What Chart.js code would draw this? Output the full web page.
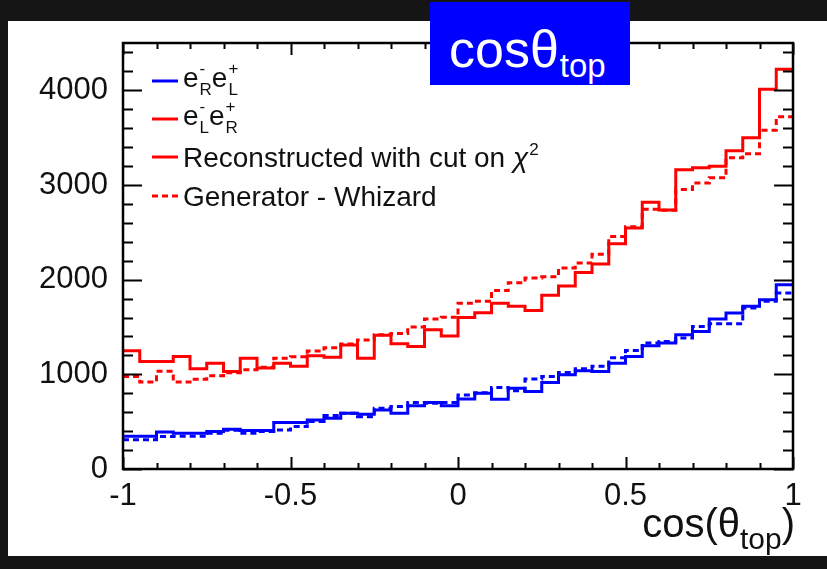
<!DOCTYPE html>
<html>
<head>
<meta charset="utf-8">
<script src="https://cdn.jsdelivr.net/npm/chart.js@4/dist/chart.umd.min.js"></script>
<style>
  html, body { margin: 0; padding: 0; width: 827px; height: 569px; overflow: hidden; background: #151515; }
  body { font-family: "Liberation Sans", Arial, Helvetica, sans-serif; position: relative; }
  #panel { position: absolute; left: 8px; top: 21px; width: 819px; height: 535px; background: #ffffff; }
  #wrap { position: absolute; left: 0; top: 0; width: 827px; height: 569px; }
  #badge { position: absolute; left: 430px; top: 2px; width: 200px; height: 83px; background: #0000ff; color: #ffffff;
           font-size: 52px; line-height: 1; white-space: nowrap; }
  #badge .main { position: absolute; left: 19px; top: 21px; }
  #badge .sub { font-size: 33px; position: relative; top: 10px; margin-left: 1px; }
  #xtitle { position: absolute; right: 32px; top: 503px; color: #111111; font-size: 40px; line-height: 1; white-space: nowrap; }
  #xtitle .sub { font-size: 30px; position: relative; top: 12px; }
</style>
</head>
<body>
<div id="panel"></div>
<div id="wrap"><canvas id="chart" width="827" height="569"></canvas></div>
<div id="badge"><span class="main">cosθ<span class="sub">top</span></span></div>
<div id="xtitle">cos(θ<span class="sub">top</span>)</div>
<script>
// Bin edges of the cos(theta_top) histograms (40 bins from -1 to 1)
const binEdges = [-1, -0.95, -0.9, -0.85, -0.8, -0.75, -0.7, -0.65, -0.6, -0.55,
  -0.5, -0.45, -0.4, -0.35, -0.3, -0.25, -0.2, -0.15, -0.1, -0.05,
  0, 0.05, 0.1, 0.15, 0.2, 0.25, 0.3, 0.35, 0.4, 0.45,
  0.5, 0.55, 0.6, 0.65, 0.7, 0.75, 0.8, 0.85, 0.9, 0.95, 1];

// e-_L e+_R : reconstructed with chi2 cut
const recoLR = [1249, 1135, 1135, 1188, 1060, 1118, 1030, 1171, 1066, 1118,
  1085, 1195, 1180, 1310, 1171, 1412, 1323, 1294, 1471, 1405,
  1600, 1650, 1750, 1718, 1675, 1835, 1932, 2075, 2165, 2380,
  2547, 2818, 2735, 3160, 3181, 3199, 3363, 3499, 4011, 4222];

// e-_L e+_R : generator level (Whizard)
const genLR = [977, 918, 1033, 918, 949, 986, 1018, 1048, 1075, 1171,
  1185, 1246, 1282, 1321, 1362, 1418, 1432, 1499, 1585, 1603,
  1750, 1771, 1885, 1968, 2018, 2030, 2124, 2175, 2268, 2455,
  2560, 2745, 2733, 2952, 3020, 3076, 3288, 3330, 3578, 3720];

// e-_R e+_L : reconstructed with chi2 cut
const recoRL = [345, 345, 390, 377, 377, 395, 420, 406, 406, 490,
  490, 518, 536, 589, 578, 624, 589, 668, 703, 667,
  740, 801, 737, 854, 818, 913, 995, 1037, 1030, 1118,
  1188, 1302, 1330, 1418, 1453, 1584, 1647, 1718, 1788, 1947];

// e-_R e+_L : generator level (Whizard)
const genRL = [310, 310, 342, 345, 345, 377, 410, 377, 395, 413,
  448, 501, 564, 589, 553, 642, 659, 702, 695, 702,
  783, 805, 862, 827, 950, 977, 1020, 1060, 1086, 1175,
  1252, 1330, 1347, 1383, 1506, 1534, 1534, 1700, 1771, 1859];

// Axis labels
const xTickValues = [-1, -0.5, 0, 0.5, 1];
const xTickLabels = ['-1', '-0.5', '0', '0.5', '1'];
const yTickValues = [0, 1000, 2000, 3000, 4000];
const yTickLabels = ['0', '1000', '2000', '3000', '4000'];

const BLUE = '#0000ff';
const RED = '#ff0000';
const INK = '#111111';
const FONT = '"Liberation Sans", Arial, Helvetica, sans-serif';

// Turn bin contents into step points: one point per left edge, plus the closing edge
function histPoints(values) {
  const pts = values.map((v, i) => ({ x: binEdges[i], y: v }));
  pts.push({ x: binEdges[values.length], y: values[values.length - 1] });
  return pts;
}

function histDataset(label, values, color, dashed) {
  return {
    label: label,
    data: histPoints(values),
    borderColor: color,
    backgroundColor: color,
    borderWidth: 3,
    borderDash: dashed ? [6, 4] : [],
    stepped: 'before',
    pointRadius: 0,
    fill: false,
    order: dashed ? 2 : 1
  };
}

// ROOT-style frame with inward ticks on all four sides
const framePlugin = {
  id: 'frame',
  afterDatasetsDraw(chart) {
    const { ctx, chartArea: a, scales } = chart;
    const xs = scales.x, ys = scales.y;
    ctx.save();
    ctx.strokeStyle = '#000';
    ctx.lineWidth = 2;
    ctx.beginPath();
    for (let k = -10; k <= 10; k++) {
      const v = k / 10;
      const px = Math.round(xs.getPixelForValue(v)) + 0.5;
      const len = (k % 5 === 0) ? 12 : 6;
      ctx.moveTo(px, a.bottom); ctx.lineTo(px, a.bottom - len);
      ctx.moveTo(px, a.top); ctx.lineTo(px, a.top + len);
    }
    for (let k = 0; k * 200 <= ys.max; k++) {
      const v = k * 200;
      const py = Math.round(ys.getPixelForValue(v)) + 0.5;
      const len = (k % 5 === 0) ? 19 : 10;
      ctx.moveTo(a.left, py); ctx.lineTo(a.left + len, py);
      ctx.moveTo(a.right, py); ctx.lineTo(a.right - len, py);
    }
    ctx.stroke();
    ctx.lineWidth = 2.5;
    ctx.strokeRect(a.left, a.top, a.right - a.left, a.bottom - a.top);
    ctx.restore();
  }
};

// Legend with particle helicity labels (sub/superscripts) and line samples
const legendPlugin = {
  id: 'physLegend',
  afterDraw(chart) {
    const ctx = chart.ctx;
    const ds = chart.data.datasets;
    const x0 = 152, x1 = 178, tx = 183;
    const big = '28px ' + FONT, small = '17px ' + FONT;

    function sample(y, dataset) {
      ctx.save();
      ctx.strokeStyle = dataset.borderColor;
      ctx.lineWidth = 3;
      ctx.setLineDash(dataset.borderDash || []);
      ctx.beginPath(); ctx.moveTo(x0, y); ctx.lineTo(x1, y); ctx.stroke();
      ctx.restore();
    }
    function particle(x, base, sub, sup) {
      ctx.font = big;
      ctx.fillText('e', x, base);
      const w = ctx.measureText('e').width;
      ctx.font = small;
      ctx.fillText(sup, x + w + 1, base - 13);
      ctx.fillText(sub, x + w + 1, base + 8);
      const sw = Math.max(ctx.measureText(sub).width, ctx.measureText(sup).width);
      return x + w + sw + 1;
    }

    ctx.save();
    ctx.fillStyle = INK;
    ctx.textBaseline = 'alphabetic';
    ctx.textAlign = 'left';

    // row 1: e-_R e+_L
    sample(81, ds[2]);
    let x = particle(tx, 87, 'R', '-');
    particle(x, 87, 'L', '+');

    // row 2: e-_L e+_R
    sample(119, ds[0]);
    x = particle(tx, 125, 'L', '-');
    particle(x, 125, 'R', '+');

    // row 3: reconstructed
    sample(157, ds[0]);
    ctx.font = big;
    const t3 = 'Reconstructed with cut on ';
    ctx.fillText(t3, tx, 167);
    let xc = tx + ctx.measureText(t3).width;
    ctx.font = 'italic 28px ' + FONT;
    ctx.fillText('\u03C7', xc, 167);
    xc += ctx.measureText('\u03C7').width + 1;
    ctx.font = small;
    ctx.fillText('2', xc, 155);

    // row 4: generator
    sample(196, ds[1]);
    ctx.font = big;
    ctx.fillText('Generator - Whizard', tx, 206);
    ctx.restore();
  }
};

const chart = new Chart(document.getElementById('chart'), {
  type: 'line',
  data: {
    datasets: [
      histDataset('e-L e+R reconstructed', recoLR, RED, false),
      histDataset('e-L e+R generator', genLR, RED, true),
      histDataset('e-R e+L reconstructed', recoRL, BLUE, false),
      histDataset('e-R e+L generator', genRL, BLUE, true)
    ]
  },
  options: {
    responsive: false,
    animation: false,
    layout: { padding: { left: 0, top: 43, right: 34, bottom: 0 } },
    plugins: { legend: { display: false }, tooltip: { enabled: false } },
    scales: {
      x: {
        type: 'linear', min: -1, max: 1,
        grid: { display: false, drawTicks: false },
        border: { display: false },
        afterBuildTicks(scale) { scale.ticks = xTickValues.map(v => ({ value: v })); },
        afterFit(scale) { scale.height = 100; },
        ticks: {
          autoSkip: false, maxRotation: 0, padding: 9, color: INK,
          font: { size: 31, family: FONT },
          callback(value) { const i = xTickValues.indexOf(value); return i >= 0 ? xTickLabels[i] : ''; }
        }
      },
      y: {
        type: 'linear', min: 0, max: 4500,
        grid: { display: false, drawTicks: false },
        border: { display: false },
        afterBuildTicks(scale) { scale.ticks = yTickValues.map(v => ({ value: v })); },
        afterFit(scale) { scale.width = 123; },
        ticks: {
          padding: 15, color: INK,
          font: { size: 31, family: FONT },
          callback(value) { const i = yTickValues.indexOf(value); return i >= 0 ? yTickLabels[i] : ''; }
        }
      }
    }
  },
  plugins: [framePlugin, legendPlugin]
});
</script>
</body>
</html>
